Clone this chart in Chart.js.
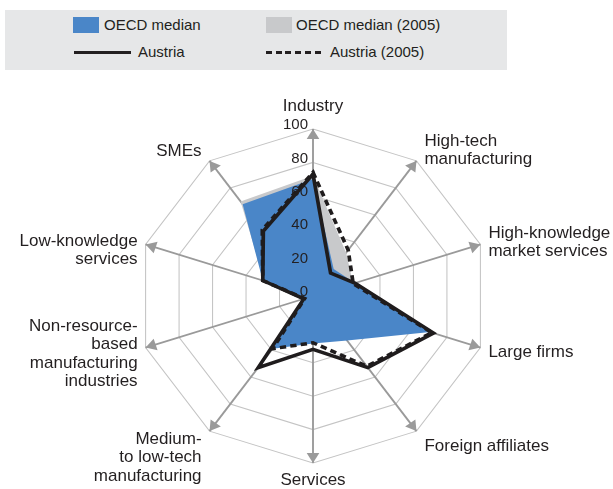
<!DOCTYPE html>
<html>
<head>
<meta charset="utf-8">
<script src="https://cdn.jsdelivr.net/npm/chart.js@4.4.1/dist/chart.umd.min.js"></script>
<style>
  html, body { margin: 0; padding: 0; background: #fff; }
  #wrap { position: relative; width: 613px; height: 489px; font-family: "Liberation Sans", Arial, sans-serif; color: #231f20; }
  #chart { position: absolute; left: 0; top: 0; }
  .legend { position: absolute; left: 5px; top: 10px; width: 502px; height: 60px; background: #e6e7e8; }
  .legend div { position: absolute; }
  .legend .lt { font-size: 15px; line-height: 16px; white-space: nowrap; }
</style>
</head>
<body>
<div id="wrap">
  <canvas id="chart" width="613" height="489"></canvas>
  <div class="legend">
    <div style="left:68px;top:7px;width:26px;height:16px;background:#4a86c8"></div>
    <div class="lt" style="left:99px;top:7px">OECD median</div>
    <div style="left:261px;top:7px;width:26px;height:16px;background:#c8c9cb"></div>
    <div class="lt" style="left:291px;top:7px">OECD median (2005)</div>
    <div style="left:69px;top:41px;width:57px;height:3px;background:#231f20"></div>
    <div class="lt" style="left:133px;top:34px">Austria</div>
    <div style="left:261px;top:41px;width:56px;height:3px;background:repeating-linear-gradient(90deg,#231f20 0 6px,transparent 6px 9.7px)"></div>
    <div class="lt" style="left:325px;top:34px">Austria (2005)</div>
  </div>
</div>
<script>
// axes of the radar, clockwise from the top
const categories = [
  ['Industry'],
  ['High-tech', 'manufacturing'],
  ['High-knowledge', 'market services'],
  ['Large firms'],
  ['Foreign affiliates'],
  ['Services'],
  ['Medium-', 'to low-tech', 'manufacturing'],
  ['Non-resource-', 'based', 'manufacturing', 'industries'],
  ['Low-knowledge', 'services'],
  ['SMEs']
];
const oecdMedian     = [70, 20, 25, 70, 33, 28.5, 39, 6, 30, 68];
const oecdMedian2005 = [72, 32, 24, 68, 32, 27, 37, 5, 29, 70];
const austria        = [73, 17, 25, 72, 53, 32, 53, 5.5, 30, 48];
const austria2005    = [74, 34, 24, 71, 52, 28, 39, 5, 30, 49];
const tickValues = [0, 20, 40, 60, 80, 100];

// the original plot is a bit wider than tall
const SX = 1.054;
// vertical shift of each axis label block (centre) from its arrow tip, px
const labelShiftY = [-23, -10.5, -2.3, 4.8, 15.3, 17.7, 26.6, 6.3, 6.2, -9.9];
const TXT = '#231f20';
const FONT = '"Liberation Sans", Arial, sans-serif';

const radarDecor = {
  id: 'radarDecor',
  beforeDraw(chart) {
    const ctx = chart.ctx, cx = chart.scales.r.xCenter;
    ctx.save();
    ctx.translate(cx, 0);
    ctx.scale(SX, 1);
    ctx.translate(-cx, 0);
  },
  afterDraw(chart) {
    const ctx = chart.ctx, r = chart.scales.r;
    const cx = r.xCenter, cy = r.yCenter;

    // arrow heads at the end of each axis (still stretched)
    ctx.fillStyle = '#9a9a9a';
    categories.forEach((c, i) => {
      const tip = r.getPointPosition(i, r.drawingArea);
      const a = r.getIndexAngle(i) - Math.PI / 2;
      const dx = Math.cos(a), dy = Math.sin(a);
      const bx = tip.x - dx * 10, by = tip.y - dy * 10;
      ctx.beginPath();
      ctx.moveTo(tip.x, tip.y);
      ctx.lineTo(bx - dy * 6, by + dx * 6);
      ctx.lineTo(bx + dy * 6, by - dx * 6);
      ctx.closePath();
      ctx.fill();
    });
    ctx.restore();

    // tick labels along the top axis
    ctx.save();
    ctx.fillStyle = TXT;
    ctx.font = '15px ' + FONT;
    ctx.textAlign = 'right';
    ctx.textBaseline = 'middle';
    tickValues.forEach(v => {
      ctx.fillText(String(v), cx - 5, cy - r.getDistanceFromCenterForValue(v) - 4);
    });

    // axis labels
    ctx.font = '17px ' + FONT;
    const lh = 18.3;
    categories.forEach((lines, i) => {
      const tip = r.getPointPosition(i, r.drawingArea);
      const tx = cx + (tip.x - cx) * SX;
      let x = tx, align = 'center';
      if (tx > cx + 5) { x = tx + 8; align = 'left'; }
      else if (tx < cx - 5) { x = tx - 8; align = 'right'; }
      ctx.textAlign = align;
      const top = tip.y + labelShiftY[i] - (lines.length - 1) * lh / 2;
      lines.forEach((t, k) => ctx.fillText(t, x, top + k * lh));
    });
    ctx.restore();
  }
};

const lineStyle = { fill: false, borderColor: '#1f1c1d', borderWidth: 3.5, pointRadius: 0, borderJoinStyle: 'miter', tension: 0 };

new Chart(document.getElementById('chart'), {
  type: 'radar',
  data: {
    labels: categories,
    datasets: [
      { label: 'OECD median', data: oecdMedian, fill: true, backgroundColor: '#4a86c8', borderWidth: 0, pointRadius: 0, order: 3 },
      { label: 'OECD median (2005)', data: oecdMedian2005, fill: true, backgroundColor: '#c8c9cb', borderWidth: 0, pointRadius: 0, order: 4 },
      Object.assign({ label: 'Austria', data: austria, order: 1 }, lineStyle),
      Object.assign({ label: 'Austria (2005)', data: austria2005, order: 2, borderDash: [6, 4] }, lineStyle)
    ]
  },
  options: {
    responsive: false,
    animation: false,
    layout: { padding: { left: 146, right: 133, top: 129, bottom: 26 } },
    plugins: { legend: { display: false }, tooltip: { enabled: false } },
    scales: {
      r: {
        min: 0, max: 100,
        ticks: { stepSize: 20, display: false },
        pointLabels: { display: false },
        grid: { color: '#c4c4c4', lineWidth: 1 },
        angleLines: { color: '#9a9a9a', lineWidth: 1.8 }
      }
    }
  },
  plugins: [radarDecor]
});
</script>
</body>
</html>
